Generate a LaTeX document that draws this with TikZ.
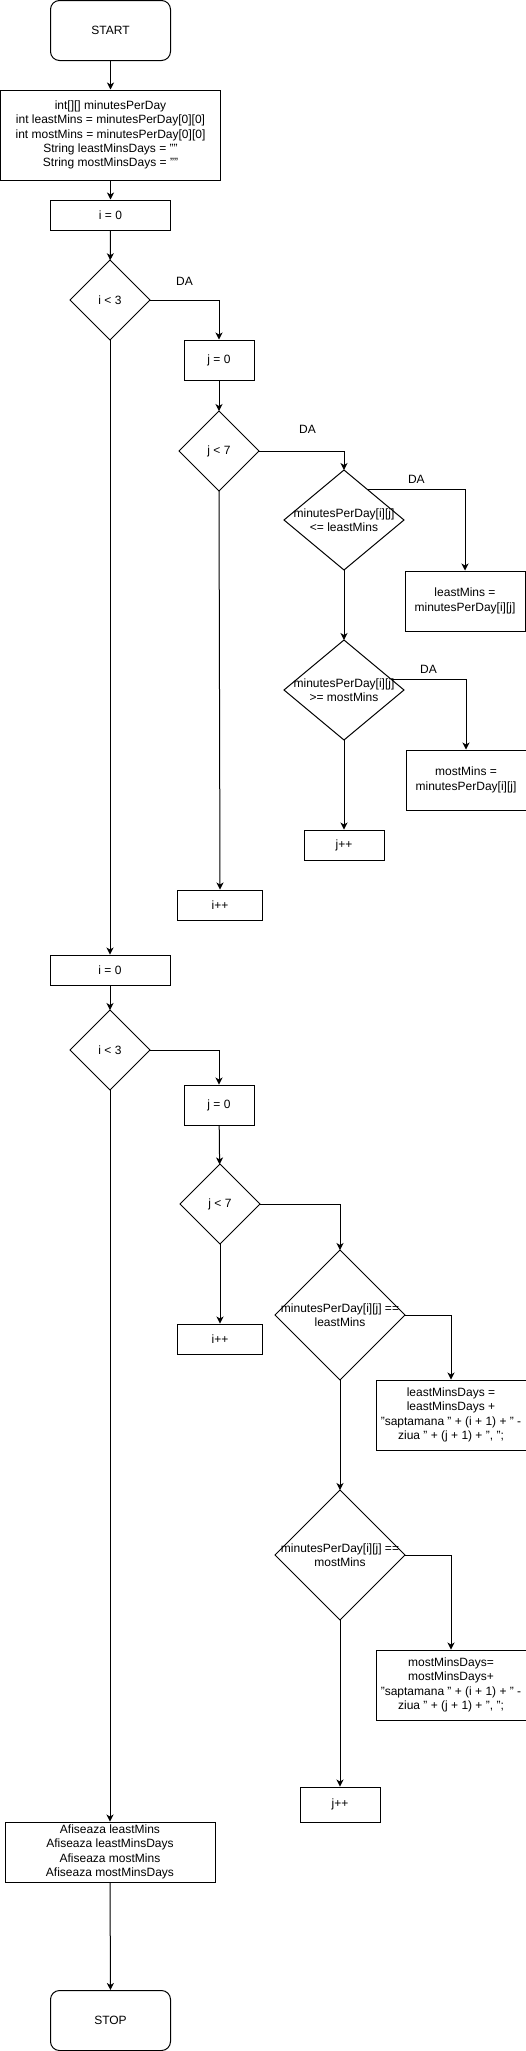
\documentclass[tikz,border=0pt]{standalone}
\usepackage{fontspec}
\setmainfont{Liberation Sans}
\usetikzlibrary{arrows.meta,shapes.geometric}

\begin{document}
\begin{tikzpicture}[
  x=1pt, y=-1pt,
  font=\fontsize{12}{14.4}\selectfont,
  term/.style={draw, line width=1pt, rounded corners=9pt,
               minimum width=120pt, minimum height=60pt, inner sep=0pt},
  proc/.style={draw, line width=1pt, inner sep=0pt, align=center},
  dec/.style={draw, diamond, line width=1pt, inner sep=0pt, outer sep=0pt},
  dtxt/.style={align=center, inner sep=0pt},
  ar/.style={-{Stealth[length=7pt,width=7pt,inset=2pt]}, line width=1pt},
  lab/.style={inner sep=0pt},
]
\useasboundingbox (0,0) rectangle (526,2051);

% ---------------- setup ----------------
\node[term] (start) at (110.5, 30.5) {START};
\node[proc, minimum width=220pt, minimum height=90pt] (init) at (110.5, 135)
  {int[][] minutesPerDay\\int leastMins = minutesPerDay[0][0]\\int mostMins = minutesPerDay[0][0]\\String leastMinsDays = ""\\String mostMinsDays = ""};
\node[proc, minimum width=120pt, minimum height=30pt] (i0a) at (110.5, 215) {i = 0};

\draw[ar] (start) -- (init);
\draw[ar] (init) -- (i0a);

% ---------------- first pass: least / most minutes ----------------
\node[dec, minimum width=80pt, minimum height=80pt,
      label={[dtxt]center:i < 3}] (c1) at (110, 300) {};
\node[proc, minimum width=70pt, minimum height=40pt] (j0a) at (219, 360) {j = 0};
\node[dec, minimum width=80pt, minimum height=80pt,
      label={[dtxt]center:j < 7}] (c2) at (219, 451) {};
\node[dec, minimum width=120pt, minimum height=100pt,
      label={[dtxt]center:{minutesPerDay[i][j]\\<= leastMins}}] (c3) at (344, 520) {};
\node[proc, minimum width=120pt, minimum height=60pt] (a1) at (465, 601)
  {leastMins =\\minutesPerDay[i][j]};
\node[dec, minimum width=120pt, minimum height=100pt,
      label={[dtxt]center:{minutesPerDay[i][j]\\>= mostMins}}] (c4) at (344, 690) {};
\node[proc, minimum width=120pt, minimum height=60pt] (a2) at (466, 780)
  {mostMins =\\minutesPerDay[i][j]};
\node[proc, minimum width=80pt, minimum height=30pt] (jpa) at (344, 845) {j++};
\node[proc, minimum width=85pt, minimum height=30pt] (ipa) at (220, 905) {i++};

\draw[ar] (i0a) -- (c1);
\draw[ar] (c1.east) -| node[lab, pos=0.25, anchor=south, yshift=14pt] {DA} (j0a.north);
\draw[ar] (j0a) -- (c2);
\draw[ar] (c2.east) -| node[lab, pos=0.25, anchor=south, xshift=6pt, yshift=17pt] {DA} (c3.north);
\draw[ar] (c3.52) -| node[lab, pos=0.25, anchor=south, yshift=6pt] {DA} (a1.north);
\draw[ar] (c3.south) -- (c4.north);
\draw[ar] (c4.13) -| node[lab, pos=0.25, anchor=south, yshift=5pt] {DA} (a2.north);
\draw[ar] (c4.south) -- (jpa.north);
\draw[ar] (c2.south) -- (ipa.north);

% ---------------- second pass: collect the days ----------------
\node[proc, minimum width=120pt, minimum height=30pt] (i0b) at (110, 970) {i = 0};
\node[dec, minimum width=80pt, minimum height=80pt,
      label={[dtxt]center:i < 3}] (c5) at (110, 1050) {};
\node[proc, minimum width=70pt, minimum height=40pt] (j0b) at (219, 1105) {j = 0};
\node[dec, minimum width=80pt, minimum height=80pt,
      label={[dtxt]center:j < 7}] (c6) at (220, 1204) {};
\node[dec, minimum width=130pt, minimum height=130pt,
      label={[dtxt]center:{minutesPerDay[i][j] ==\\leastMins}}] (c7) at (340, 1315) {};
\node[proc, minimum width=150pt, minimum height=70pt] (b1) at (451, 1415)
  {leastMinsDays =\\leastMinsDays +\\"saptamana " + (i + 1) + " -\\ziua " + (j + 1) + ", ";};
\node[dec, minimum width=130pt, minimum height=130pt,
      label={[dtxt]center:{minutesPerDay[i][j] ==\\mostMins}}] (c8) at (340, 1555) {};
\node[proc, minimum width=150pt, minimum height=70pt] (b2) at (451, 1685)
  {mostMinsDays=\\mostMinsDays+\\"saptamana " + (i + 1) + " -\\ziua " + (j + 1) + ", ";};
\node[proc, minimum width=80pt, minimum height=35pt] (jpb) at (340, 1804.5) {j++};
\node[proc, minimum width=85pt, minimum height=30pt] (ipb) at (220, 1339) {i++};

\draw[ar] (c1.south) -- (i0b.north);
\draw[ar] (i0b) -- (c5);
\draw[ar] (c5.east) -| (j0b.north);
\draw[ar] (j0b) -- (c6);
\draw[ar] (c6.east) -| (c7.north);
\draw[ar] (c7.east) -| (b1.north);
\draw[ar] (c7.south) -- (c8.north);
\draw[ar] (c8.east) -| (b2.north);
\draw[ar] (c8.south) -- (jpb.north);
\draw[ar] (c6.south) -- (ipb.north);

% ---------------- output ----------------
\node[proc, minimum width=210pt, minimum height=60pt] (out) at (110, 1852)
  {Afiseaza leastMins\\Afiseaza leastMinsDays\\Afiseaza mostMins\\Afiseaza mostMinsDays};
\node[term] (stop) at (110.5, 2020.5) {STOP};

\draw[ar] (c5.south) -- (out.north);
\draw[ar] (out) -- (stop);

\end{tikzpicture}
\end{document}
